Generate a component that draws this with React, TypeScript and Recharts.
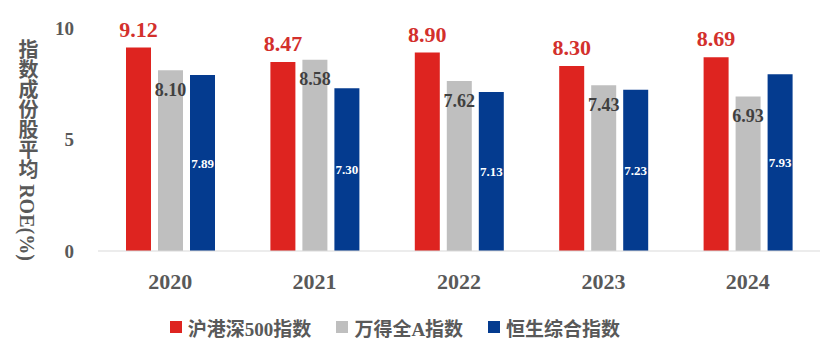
import { BarChart, Bar, XAxis, YAxis, Legend, LabelList } from "recharts";

const years = ["2020", "2021", "2022", "2023", "2024"];
const hs500 = [9.12, 8.47, 8.9, 8.3, 8.69];
const windA = [8.1, 8.58, 7.62, 7.43, 6.93];
const hsci = [7.89, 7.3, 7.13, 7.23, 7.93];
const yTicks = [0, 5, 10];

const seriesNames = ["沪港深500指数", "万得全A指数", "恒生综合指数"];
const colors = ["#de2420", "#bfbfbf", "#043b8f"];

const FONT = "'Liberation Serif', 'Noto Sans CJK SC', serif";

const data = years.map((year, i) => ({
  year,
  hs500: hs500[i],
  windA: windA[i],
  hsci: hsci[i],
}));

const fmt = (v: any) => Number(v).toFixed(2);

function LegendContent() {
  return (
    <div
      style={{
        display: "flex",
        justifyContent: "center",
        alignItems: "center",
        height: 30,
        fontFamily: FONT,
        fontWeight: "bold",
        fontSize: 19,
        color: "#595959",
        paddingRight: 30,
      }}
    >
      {seriesNames.map((name, i) => (
        <div
          key={name}
          style={{ display: "flex", alignItems: "center", marginRight: i < 2 ? 25 : 0 }}
        >
          <span
            style={{
              width: 12,
              height: 12,
              background: colors[i],
              display: "inline-block",
              marginRight: 6,
            }}
          />
          <span>{name}</span>
        </div>
      ))}
    </div>
  );
}

function YLabel() {
  return (
    <text
      x={27}
      y={150}
      textAnchor="middle"
      fill="#595959"
      style={{
        writingMode: "vertical-rl",
        fontFamily: FONT,
        fontWeight: "bold",
        fontSize: 20,
      }}
    >
      指数成份股平均 ROE(%)
    </text>
  );
}

export default function App() {
  return (
    <div style={{ position: "absolute", left: 0, top: 0, background: "#fff" }}>
      <BarChart
        width={832}
        height={352}
        data={data}
        margin={{ top: 28, right: 12, bottom: 10, left: 0 }}
        barGap={7}
        barSize={25}
      >
        <XAxis
          dataKey="year"
          axisLine={{ stroke: "#d9d9d9" }}
          tickLine={false}
          height={61}
          tickMargin={16}
          tick={{
            fill: "#595959",
            fontSize: 22,
            fontWeight: "bold",
            fontFamily: FONT,
          }}
        />
        <YAxis
          width={98}
          domain={[0, 10]}
          ticks={yTicks}
          axisLine={false}
          tickLine={false}
          tickMargin={18}
          tick={{
            fill: "#595959",
            fontSize: 19,
            fontWeight: "bold",
            fontFamily: FONT,
          }}
          label={{ content: () => <YLabel /> }}
        />
        <Legend verticalAlign="bottom" height={30} content={() => <LegendContent />} />
        <Bar dataKey="hs500" name={seriesNames[0]} fill={colors[0]} isAnimationActive={false}>
          <LabelList
            dataKey="hs500"
            position="top"
            offset={11}
            formatter={fmt}
            style={{ fill: "#d3302c", fontSize: 22, fontWeight: "bold", fontFamily: FONT }}
          />
        </Bar>
        <Bar dataKey="windA" name={seriesNames[1]} fill={colors[1]} isAnimationActive={false}>
          <LabelList
            dataKey="windA"
            position="insideTop"
            offset={13}
            formatter={fmt}
            style={{ fill: "#404040", fontSize: 18, fontWeight: "bold", fontFamily: FONT }}
          />
        </Bar>
        <Bar dataKey="hsci" name={seriesNames[2]} fill={colors[2]} isAnimationActive={false}>
          <LabelList
            dataKey="hsci"
            position="center"
            formatter={fmt}
            style={{ fill: "#ffffff", fontSize: 13, fontWeight: "bold", fontFamily: FONT }}
          />
        </Bar>
      </BarChart>
    </div>
  );
}
